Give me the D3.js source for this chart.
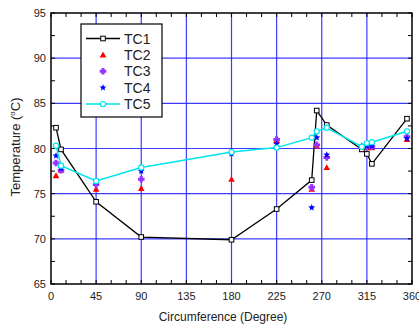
<!DOCTYPE html>
<html>
<head>
<meta charset="utf-8">
<script src="https://cdnjs.cloudflare.com/ajax/libs/d3/7.8.5/d3.min.js"></script>
<style>
  body { margin:0; background:#fff; }
  text { font-family: "Liberation Sans", Arial, sans-serif; fill:#222; }
</style>
</head>
<body>
<div id="chart"></div>
<script>
// angular positions (degree)
var degTC1 = [5, 10, 45, 90, 180, 225, 260, 265, 275, 310, 315, 320, 355];
var tc1 = [82.3, 79.9, 74.1, 70.2, 69.9, 73.3, 76.5, 84.2, 82.6, 79.9, 79.4, 78.3, 83.3];
var tc5 = [80.3, 78.1, 76.4, 77.9, 79.6, 80.1, 81.2, 81.9, 82.3, 80.2, 80.6, 80.7, 81.9];

var degPts = [5, 10, 45, 90, 180, 225, 260, 265, 275, 310, 315, 320, 355];
var tc2 = [77.0, 77.6, 75.5, 75.6, 76.6, 80.9, 75.5, 80.3, 77.9, 79.9, 80.1, 80.1, 81.0];
var tc3 = [78.4, 77.6, 76.0, 76.6, null, 81.0, 75.7, 80.4, 79.0, 80.1, 80.2, 80.2, 81.3];
var tc4 = [79.2, 77.8, 76.3, 77.5, 79.4, 80.5, 73.45, 81.2, 79.3, 80.3, 80.3, 80.3, 81.1];

var xTicks = [0, 45, 90, 135, 180, 225, 270, 315, 360];
var yTicks = [65, 70, 75, 80, 85, 90, 95];

var width = 419, height = 331;
var x0 = 51, x1 = 412, y0 = 284, y1 = 13;

var svg = d3.select("#chart").append("svg")
    .attr("width", width)
    .attr("height", height);

var x = d3.scaleLinear().domain([0, 360]).range([x0, x1]);
var y = d3.scaleLinear().domain([65, 95]).range([y0, y1]);

// grid
svg.append("g").selectAll("line").data(xTicks.slice(1, -1)).join("line")
    .attr("x1", d => x(d)).attr("x2", d => x(d))
    .attr("y1", y0).attr("y2", y1)
    .attr("stroke", "#1a1aff").attr("stroke-opacity", 0.85).attr("stroke-width", 1.2);
svg.append("g").selectAll("line").data(yTicks.slice(1, -1)).join("line")
    .attr("y1", d => y(d)).attr("y2", d => y(d))
    .attr("x1", x0).attr("x2", x1)
    .attr("stroke", "#1a1aff").attr("stroke-opacity", 0.85).attr("stroke-width", 1.2);

// inward ticks on all sides
var xMinor = d3.range(0, 361, 15), yMinor = d3.range(65, 95.1, 2.5);
var tk = svg.append("g").attr("stroke", "#000").attr("stroke-width", 1);
tk.selectAll(".xb").data(xMinor).join("line")
    .attr("x1", d => x(d)).attr("x2", d => x(d)).attr("y1", y0).attr("y2", y0 - 4);
tk.selectAll(".xt").data(xMinor).join("line").attr("class", "xt")
    .attr("x1", d => x(d)).attr("x2", d => x(d)).attr("y1", y1).attr("y2", y1 + 4);
tk.selectAll(".yl").data(yMinor).join("line").attr("class", "yl")
    .attr("y1", d => y(d)).attr("y2", d => y(d)).attr("x1", x0).attr("x2", x0 + 4);
tk.selectAll(".yr").data(yMinor).join("line").attr("class", "yr")
    .attr("y1", d => y(d)).attr("y2", d => y(d)).attr("x1", x1).attr("x2", x1 - 4);

// frame
svg.append("rect").attr("x", x0).attr("y", y1)
    .attr("width", x1 - x0).attr("height", y0 - y1)
    .attr("fill", "none").attr("stroke", "#000").attr("stroke-width", 1.5);

// tick labels
svg.append("g").selectAll("text").data(xTicks).join("text")
    .attr("x", d => x(d)).attr("y", y0 + 16)
    .attr("text-anchor", "middle").style("font-size", "11px")
    .text(d => d);
svg.append("g").selectAll("text").data(yTicks).join("text")
    .attr("x", x0 - 5).attr("y", d => y(d) + 4)
    .attr("text-anchor", "end").style("font-size", "11px")
    .text(d => d);

// axis titles
svg.append("text").attr("x", 223).attr("y", 321)
    .attr("text-anchor", "middle").style("font-size", "12px")
    .text("Circumference (Degree)");
var yl = svg.append("text")
    .attr("transform", "translate(20,147) rotate(-90)")
    .attr("text-anchor", "middle").style("font-size", "13px");
yl.append("tspan").text("Temperature (");
yl.append("tspan").attr("dy", -5).style("font-size", "8px").text("o");
yl.append("tspan").attr("dy", 5).text("C)");

var line = d3.line().x(d => x(d[0])).y(d => y(d[1]));

// marker shapes
function star(cx, cy, r) {
  var pts = [];
  for (var i = 0; i < 10; i++) {
    var a = -Math.PI / 2 + i * Math.PI / 5, rr = i % 2 ? r * 0.45 : r;
    pts.push([cx + rr * Math.cos(a), cy + rr * Math.sin(a)]);
  }
  return "M" + pts.join("L") + "Z";
}
function tri(cx, cy, r) {
  return "M" + cx + "," + (cy - r) + "L" + (cx + r) + "," + (cy + r * 0.8) + "L" + (cx - r) + "," + (cy + r * 0.8) + "Z";
}
function plus(cx, cy, r) {
  var w = r * 0.45;
  return "M" + (cx - w) + "," + (cy - r) + "H" + (cx + w) + "V" + (cy - w) + "H" + (cx + r) + "V" + (cy + w) +
    "H" + (cx + w) + "V" + (cy + r) + "H" + (cx - w) + "V" + (cy + w) + "H" + (cx - r) + "V" + (cy - w) + "H" + (cx - w) + "Z";
}

var tc1Pts = d3.zip(degTC1, tc1), tc5Pts = d3.zip(degTC1, tc5);

svg.append("path").datum(tc1Pts).attr("d", line)
    .attr("fill", "none").attr("stroke", "#000").attr("stroke-width", 1.3);

svg.append("g").selectAll("path").data(d3.zip(degPts, tc2)).join("path")
    .attr("d", d => tri(x(d[0]), y(d[1]), 3.3)).attr("fill", "#ff0000");
svg.append("g").selectAll("path").data(d3.zip(degPts, tc3).filter(d => d[1] != null)).join("path")
    .attr("d", d => plus(x(d[0]), y(d[1]), 3.3)).attr("fill", "#9933ff");
svg.append("g").selectAll("path").data(d3.zip(degPts, tc4)).join("path")
    .attr("d", d => star(x(d[0]), y(d[1]), 3.6)).attr("fill", "#0000ff");

svg.append("g").selectAll("rect").data(tc1Pts).join("rect")
    .attr("x", d => x(d[0]) - 2.3).attr("y", d => y(d[1]) - 2.3)
    .attr("width", 4.6).attr("height", 4.6)
    .attr("fill", "#fff").attr("stroke", "#000").attr("stroke-width", 1);

svg.append("path").datum(tc5Pts).attr("d", line)
    .attr("fill", "none").attr("stroke", "#00e5ee").attr("stroke-width", 1.5);
svg.append("g").selectAll("circle").data(tc5Pts).join("circle")
    .attr("cx", d => x(d[0])).attr("cy", d => y(d[1])).attr("r", 2.6)
    .attr("fill", "#fff").attr("stroke", "#00e5ee").attr("stroke-width", 1.2);

// legend
var names = ["TC1", "TC2", "TC3", "TC4", "TC5"];
var lg = svg.append("g");
lg.append("rect").attr("x", 81).attr("y", 24).attr("width", 81).attr("height", 93)
    .attr("fill", "#fff").attr("stroke", "#000").attr("stroke-width", 1.2);
names.forEach(function(n, i) {
  var ly = 38.5 + i * 16.4, lx = 103;
  if (i === 0) {
    lg.append("line").attr("x1", 86).attr("x2", 120).attr("y1", ly).attr("y2", ly).attr("stroke", "#000").attr("stroke-width", 1.3);
    lg.append("rect").attr("x", lx - 2.3).attr("y", ly - 2.3).attr("width", 4.6).attr("height", 4.6)
      .attr("fill", "#fff").attr("stroke", "#000");
  } else if (i === 1) {
    lg.append("path").attr("d", tri(lx, ly, 3.3)).attr("fill", "#ff0000");
  } else if (i === 2) {
    lg.append("path").attr("d", plus(lx, ly, 3.3)).attr("fill", "#9933ff");
  } else if (i === 3) {
    lg.append("path").attr("d", star(lx, ly, 3.6)).attr("fill", "#0000ff");
  } else {
    lg.append("line").attr("x1", 86).attr("x2", 120).attr("y1", ly).attr("y2", ly).attr("stroke", "#00e5ee").attr("stroke-width", 1.5);
    lg.append("circle").attr("cx", lx).attr("cy", ly).attr("r", 2.6)
      .attr("fill", "#fff").attr("stroke", "#00e5ee").attr("stroke-width", 1.2);
  }
  lg.append("text").attr("x", 124).attr("y", ly + 5).style("font-size", "14px").text(n);
});
</script>
</body>
</html>
